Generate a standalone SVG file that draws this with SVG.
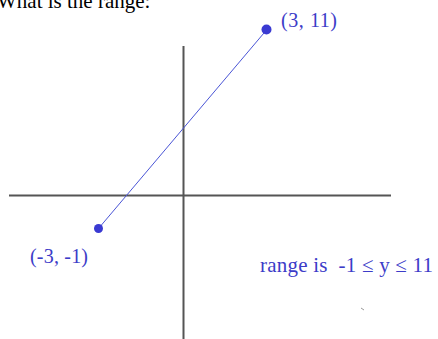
<svg xmlns="http://www.w3.org/2000/svg" width="438" height="339" viewBox="0 0 438 339">
<style>
.axis{stroke:#555;stroke-width:2;fill:none}
.serif{font-family:"Liberation Serif","Times New Roman",serif}
.lbl{font-family:"Liberation Serif","Times New Roman",serif;fill:#3c3cc8;font-size:20px}
.pt{fill:#3a3ad2}
</style>
<rect width="438" height="339" fill="#fff"/>
<text class="serif" x="-3" y="8" font-size="21" fill="#000">What is the range:</text>
<g id="axes">
<line class="axis" x1="183.5" y1="46" x2="183.5" y2="339"/>
<line class="axis" x1="9" y1="195.5" x2="391" y2="195.5"/>
</g>
<g id="connectors">
<line x1="98.5" y1="228.5" x2="266.5" y2="30" stroke="#4a55d6" stroke-width="1"/>
</g>
<g id="p1">
<circle class="pt" cx="266.5" cy="29.5" r="5"/>
<text class="lbl" x="281" y="27" textLength="56">(3, 11)</text>
</g>
<g id="p2">
<circle class="pt" cx="98.5" cy="228.5" r="4.5"/>
<text class="lbl" x="30" y="263" textLength="58">(-3, -1)</text>
</g>
<g id="range">
<text class="lbl" x="260" y="272" xml:space="preserve" style="font-size:21px" textLength="173">range is  -1 ≤ y ≤ 11</text>
</g>
<line x1="361" y1="308" x2="364" y2="310" stroke="#999" stroke-width="1"/>
</svg>
